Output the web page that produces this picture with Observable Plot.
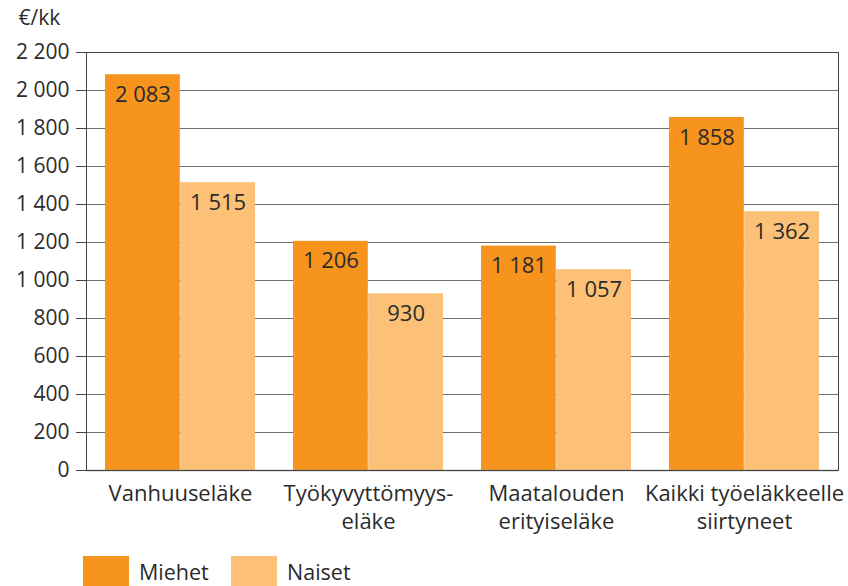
<!DOCTYPE html>
<html>
<head>
<meta charset="utf-8">
<script src="https://cdn.jsdelivr.net/npm/d3@7"></script>
<script src="https://cdn.jsdelivr.net/npm/@observablehq/plot@0.6"></script>
<style>
  body { margin: 0; background: #fff; font-family: "Open Sans", sans-serif; color: #2b2b2b; overflow: hidden; }
  #chart svg { display: block; }
  .legend { display: flex; align-items: flex-start; margin-top: 16px; padding-left: 83px; font-size: 21.5px; height: 30px; }
  .legend .item { display: flex; align-items: flex-start; }
  .legend .sw { width: 46px; height: 30px; margin-right: 10px; flex: none; }
  .legend span { line-height: 22px; margin-top: 5px; }
</style>
</head>
<body>
<div id="chart"></div>
<script>
const categories = ["Vanhuuseläke", "Työkyvyttömyys-\neläke", "Maatalouden\nerityiseläke", "Kaikki työeläkkeelle\nsiirtyneet"];
const miehet = [2083, 1206, 1181, 1858];
const naiset = [1515, 930, 1057, 1362];
const yTicks = [0, 200, 400, 600, 800, 1000, 1200, 1400, 1600, 1800, 2000, 2200];
const seriesNames = ["Miehet", "Naiset"];
const seriesColors = ["#F7941D", "#FCC177"];
const unitLabel = "€/kk";

const fmt = d => d3.format(",")(d).replace(/,/g, " ");
const dataM = categories.map((c, i) => ({cat: c, value: miehet[i]}));
const dataN = categories.map((c, i) => ({cat: c, value: naiset[i]}));

const W = 848, H = 540, mL = 86, mR = 10, mT = 52, mB = 70;
const pI = 0.2, pO = 0.1;
const band = (W - mL - mR) / (categories.length - pI + 2 * pO) * (1 - pI);
const half = band / 2;

const chart = Plot.plot({
  width: W, height: H,
  marginLeft: mL, marginRight: mR, marginTop: mT, marginBottom: mB,
  style: {fontFamily: "Open Sans, sans-serif", fontSize: "21px", color: "#2b2b2b"},
  x: {domain: categories, paddingInner: pI, paddingOuter: pO, axis: null},
  y: {domain: [0, 2200], axis: null},
  marks: [
    Plot.ruleY(yTicks.slice(1, -1), {stroke: "#6e6e6e", strokeWidth: 1}),
    Plot.barY(dataM, {x: "cat", y: "value", fill: seriesColors[0], insetRight: half}),
    Plot.barY(dataN, {x: "cat", y: "value", fill: seriesColors[1], insetLeft: half}),
    Plot.text(dataM, {x: "cat", y: "value", text: d => fmt(d.value), dx: -half / 2, dy: 20, fontSize: 22, fill: "#2b2b2b"}),
    Plot.text(dataN, {x: "cat", y: "value", text: d => fmt(d.value), dx: half / 2, dy: 20, fontSize: 22, fill: "#2b2b2b"}),
    Plot.ruleY([0], {stroke: "#888", strokeWidth: 1.5}),
    Plot.ruleY([2200], {stroke: "#444", strokeWidth: 1}),
    Plot.frame({stroke: "#444", strokeWidth: 1}),
    Plot.axisY({ticks: yTicks, tickSize: 10, tickPadding: 7, tickFormat: fmt, fontSize: 21, stroke: "#444", label: null}),
    Plot.axisX({tickSize: 0, tickPadding: 10, fontSize: 22, lineHeight: 1.3, label: null}),
    Plot.text([unitLabel], {frameAnchor: "top-left", dx: -68, dy: -42, textAnchor: "start", fontSize: 21, fill: "#2b2b2b"})
  ]
});
document.getElementById("chart").appendChild(chart);

const legend = document.createElement("div");
legend.className = "legend";
seriesNames.forEach((name, i) => {
  const item = document.createElement("div");
  item.className = "item";
  if (i === 0) item.style.width = "148px";
  const sw = document.createElement("div");
  sw.className = "sw";
  sw.style.background = seriesColors[i];
  const label = document.createElement("span");
  label.textContent = name;
  item.appendChild(sw);
  item.appendChild(label);
  legend.appendChild(item);
});
document.body.appendChild(legend);
</script>
</body>
</html>
